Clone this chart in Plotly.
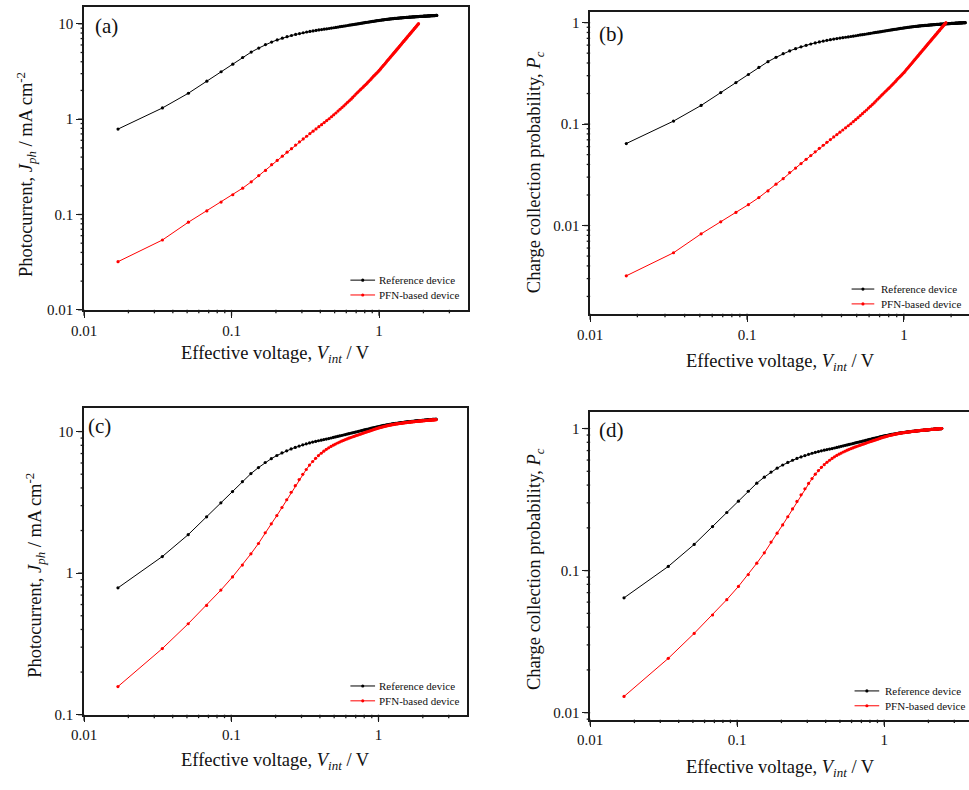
import math
import plotly.graph_objects as go

W, H = 969, 790
FONT = "Liberation Serif"

# Effective voltage sweep (V)
voltage = [
    0.017, 0.034, 0.051, 0.068, 0.085, 0.102, 0.119, 0.136, 0.153, 0.170,
    0.187, 0.204, 0.221, 0.238, 0.255, 0.272, 0.289, 0.306, 0.323, 0.340,
    0.357, 0.374, 0.391, 0.408, 0.425, 0.442, 0.459, 0.476, 0.493, 0.510,
    0.527, 0.544, 0.561, 0.578, 0.595, 0.612, 0.629, 0.646, 0.663, 0.680,
    0.697, 0.714, 0.731, 0.748, 0.765, 0.782, 0.799, 0.816, 0.833, 0.850,
    0.867, 0.884, 0.901, 0.918, 0.935, 0.952, 0.969, 0.986, 1.003, 1.020,
    1.037, 1.054, 1.071, 1.088, 1.105, 1.122, 1.139, 1.156, 1.173, 1.190,
    1.207, 1.224, 1.241, 1.258, 1.275, 1.292, 1.309, 1.326, 1.343, 1.360,
    1.377, 1.394, 1.411, 1.428, 1.445, 1.462, 1.479, 1.496, 1.513, 1.530,
    1.547, 1.564, 1.581, 1.598, 1.615, 1.632, 1.649, 1.666, 1.683, 1.700,
    1.717, 1.734, 1.751, 1.768, 1.785, 1.802, 1.819, 1.836, 1.853, 1.870,
    1.887, 1.904, 1.921, 1.938, 1.955, 1.972, 1.989, 2.006, 2.023, 2.040,
    2.057, 2.074, 2.091, 2.108, 2.125, 2.142, 2.159, 2.176, 2.193, 2.210,
    2.227, 2.244, 2.261, 2.278, 2.295, 2.312, 2.329, 2.346, 2.363, 2.380,
    2.397, 2.414, 2.431, 2.448, 2.465,
]

# Photocurrent of the reference device (mA cm^-2)
j_reference = [
    0.787, 1.31, 1.87, 2.50, 3.14, 3.77, 4.43, 5.05, 5.57, 6.05,
    6.44, 6.78, 7.07, 7.32, 7.54, 7.73, 7.90, 8.06, 8.20, 8.32,
    8.43, 8.53, 8.62, 8.70, 8.78, 8.85, 8.93, 9.01, 9.09, 9.17,
    9.25, 9.32, 9.39, 9.46, 9.53, 9.60, 9.67, 9.74, 9.80, 9.86,
    9.92, 9.98, 10.04, 10.10, 10.16, 10.22, 10.28, 10.33, 10.38, 10.43,
    10.48, 10.53, 10.58, 10.63, 10.68, 10.73, 10.78, 10.82, 10.86, 10.90,
    10.94, 10.98, 11.02, 11.06, 11.09, 11.12, 11.15, 11.18, 11.21, 11.24,
    11.27, 11.30, 11.33, 11.36, 11.38, 11.40, 11.42, 11.44, 11.46, 11.48,
    11.50, 11.52, 11.54, 11.56, 11.58, 11.60, 11.62, 11.64, 11.65, 11.67,
    11.68, 11.70, 11.71, 11.73, 11.74, 11.76, 11.77, 11.79, 11.80, 11.81,
    11.83, 11.84, 11.85, 11.86, 11.87, 11.89, 11.90, 11.91, 11.92, 11.93,
    11.94, 11.95, 11.96, 11.97, 11.98, 11.99, 12.00, 12.01, 12.02, 12.03,
    12.04, 12.05, 12.06, 12.07, 12.08, 12.09, 12.10, 12.11, 12.12, 12.13,
    12.14, 12.15, 12.16, 12.16, 12.17, 12.18, 12.19, 12.19, 12.20, 12.21,
    12.21, 12.22, 12.23, 12.23, 12.24,
]

# Photocurrent of the PFN-based device, panels (a)/(b)
j_pfn_a = [
    0.032, 0.054, 0.083, 0.109, 0.135, 0.161, 0.189, 0.220, 0.256, 0.290,
    0.333, 0.369, 0.409, 0.450, 0.490, 0.534, 0.578, 0.620, 0.662, 0.705,
    0.748, 0.790, 0.833, 0.876, 0.920, 0.965, 1.01, 1.06, 1.11, 1.16,
    1.215, 1.27, 1.325, 1.38, 1.44, 1.50, 1.56, 1.62, 1.69, 1.76,
    1.83, 1.90, 1.97, 2.04, 2.11, 2.18, 2.25, 2.32, 2.40, 2.48,
    2.56, 2.64, 2.73, 2.82, 2.90, 2.98, 3.06, 3.15, 3.24, 3.34,
    3.45, 3.55, 3.66, 3.76, 3.87, 3.98, 4.10, 4.21, 4.32, 4.44,
    4.56, 4.68, 4.80, 4.92, 5.04, 5.16, 5.29, 5.42, 5.54, 5.67,
    5.80, 5.94, 6.07, 6.21, 6.35, 6.49, 6.62, 6.76, 6.90, 7.05,
    7.19, 7.34, 7.49, 7.63, 7.78, 7.94, 8.09, 8.24, 8.40, 8.56,
    8.72, 8.88, 9.04, 9.20, 9.36, 9.52, 9.69, 9.85, 10.02,
]

# Photocurrent of the PFN-based device, panels (c)/(d)
j_pfn_c = [
    0.158, 0.293, 0.439, 0.592, 0.759, 0.940, 1.14, 1.37, 1.62, 1.93,
    2.23, 2.55, 2.91, 3.30, 3.73, 4.15, 4.58, 4.99, 5.40, 5.80,
    6.15, 6.48, 6.77, 7.03, 7.27, 7.49, 7.68, 7.86, 8.02, 8.17,
    8.31, 8.44, 8.56, 8.67, 8.78, 8.88, 8.98, 9.07, 9.16, 9.25,
    9.33, 9.41, 9.49, 9.57, 9.65, 9.73, 9.81, 9.88, 9.95, 10.02,
    10.08, 10.15, 10.22, 10.29, 10.36, 10.43, 10.49, 10.55, 10.61, 10.66,
    10.71, 10.76, 10.81, 10.86, 10.90, 10.94, 10.98, 11.02, 11.06, 11.10,
    11.13, 11.16, 11.19, 11.22, 11.25, 11.28, 11.31, 11.33, 11.35, 11.37,
    11.39, 11.41, 11.43, 11.45, 11.47, 11.49, 11.51, 11.53, 11.55, 11.57,
    11.59, 11.60, 11.62, 11.63, 11.65, 11.66, 11.68, 11.69, 11.71, 11.72,
    11.74, 11.75, 11.76, 11.78, 11.79, 11.80, 11.81, 11.83, 11.84, 11.85,
    11.86, 11.87, 11.88, 11.89, 11.90, 11.91, 11.92, 11.93, 11.94, 11.95,
    11.96, 11.97, 11.98, 11.98, 11.99, 12.00, 12.01, 12.02, 12.03, 12.04,
    12.04, 12.05, 12.06, 12.07, 12.08, 12.08, 12.09, 12.10, 12.11, 12.12,
    12.12, 12.13, 12.14, 12.15, 12.15,
]

# Charge collection probability P_c = J_ph / J_sat (saturation = last point of each sweep)
pc_reference = [j / j_reference[-1] for j in j_reference]
pc_pfn_a = [j / j_pfn_a[-1] for j in j_pfn_a]
pc_pfn_c = [j / j_pfn_c[-1] for j in j_pfn_c]

legend_names = ["Reference device", "PFN-based device"]
series_colors = ["#000000", "#ff0000"]

x_title = "Effective voltage, <i>V<sub>int</sub></i> / V"
j_title = "Photocurrent, <i>J<sub>ph</sub></i> / mA cm<sup>-2</sup>"
pc_title = "Charge collection probability, <i>P<sub>c</sub></i>"


def fx(px):
    return px / W


def fy(py):
    return 1 - py / H


panels = [
    dict(tag="(a)", ref=j_reference, pfn=j_pfn_a, ytitle=j_title,
         xdom=(72, 461), ydom=(7, 313), xr=(-2, 0.602), yr=(-2, 1.177),
         tagpos=(95, 26), ytitlepos=(13, 176), xtitlepos=(266, 358),
         leg=(342, 367, 369, 283, 298), right=True),
    dict(tag="(b)", ref=pc_reference, pfn=pc_pfn_a, ytitle=pc_title,
         xdom=(585, 969), ydom=(12, 317), xr=(-2, 0.415), yr=(-2.87, 0.106),
         tagpos=(607, 34), ytitlepos=(529, 174), xtitlepos=(778, 366),
         leg=(850, 873, 878, 292, 307), right=False),
    dict(tag="(c)", ref=j_reference, pfn=j_pfn_c, ytitle=j_title,
         xdom=(72, 460), ydom=(412, 722), xr=(-2, 0.60), yr=(-1, 1.168),
         tagpos=(88, 430), ytitlepos=(22, 581), xtitlepos=(266, 769),
         leg=(342, 367, 369, 693, 708), right=True),
    dict(tag="(d)", ref=pc_reference, pfn=pc_pfn_c, ytitle=pc_title,
         xdom=(585, 969), ydom=(416, 727), xr=(-2, 0.577), yr=(-2.049, 0.118),
         tagpos=(607, 434), ytitlepos=(529, 575), xtitlepos=(778, 776),
         leg=(853, 878, 882, 698, 713), right=False),
]

AX_COLOR = "#1a1a1a"
MAJOR_LEN, MINOR_LEN = 6, 3.5


def log_ticks(lo, hi):
    """(value, is_major) for 1..9 x 10^k inside a log10 range."""
    out = []
    for e in range(math.floor(lo), math.ceil(hi) + 1):
        for m in range(1, 10):
            v = m * 10.0 ** e
            if lo - 1e-9 <= math.log10(v) <= hi + 1e-9:
                out.append((v, m == 1))
    return out


def tick_shapes(p):
    """Outward tick marks on the bottom and left axis lines of one panel."""
    (x0, x1), (y0, y1) = p["xdom"], p["ydom"]
    lo, hi = p["xr"]
    res = []
    for v, major in log_ticks(lo, hi):
        px = x0 + (math.log10(v) - lo) / (hi - lo) * (x1 - x0)
        ln = MAJOR_LEN if major else MINOR_LEN
        res.append(dict(type="line", xref="paper", yref="paper",
                        x0=fx(px), x1=fx(px), y0=fy(y1), y1=fy(y1 + ln),
                        line=dict(color=AX_COLOR, width=1.3)))
    lo, hi = p["yr"]
    for v, major in log_ticks(lo, hi):
        py = y1 - (math.log10(v) - lo) / (hi - lo) * (y1 - y0)
        ln = MAJOR_LEN if major else MINOR_LEN
        res.append(dict(type="line", xref="paper", yref="paper",
                        x0=fx(x0), x1=fx(x0 - ln), y0=fy(py), y1=fy(py),
                        line=dict(color=AX_COLOR, width=1.3)))
    return res


fig = go.Figure()
annotations = []
shapes = []
layout = {}


def note(text, px, py, size, **kw):
    return dict(text=text, x=fx(px), y=fy(py), xref="paper", yref="paper",
                showarrow=False, xanchor=kw.pop("xanchor", "center"),
                yanchor="middle", font=dict(family=FONT, size=size, color="#111"),
                **kw)


for i, p in enumerate(panels):
    n = "" if i == 0 else str(i + 1)
    xa, ya = "x" + n, "y" + n

    for series, color, name in zip((p["ref"], p["pfn"]), series_colors, legend_names):
        fig.add_trace(go.Scatter(
            x=voltage[:len(series)], y=series, xaxis=xa, yaxis=ya,
            mode="lines+markers", name=name, showlegend=False,
            line=dict(color=color, width=1),
            marker=dict(color=color, size=3.2, line=dict(width=0)),
        ))

    common = dict(
        type="log", showgrid=False, zeroline=False, showline=True,
        linecolor=AX_COLOR, linewidth=1.5, ticks="outside", ticklen=MAJOR_LEN,
        tickwidth=1.3, tickcolor=AX_COLOR,
        tickmode="linear", tick0=0, dtick=1,
        tickfont=dict(family=FONT, size=15, color="#111"),
        fixedrange=True,
    )
    layout["xaxis" + n] = dict(
        common, domain=[fx(p["xdom"][0]), fx(p["xdom"][1])], range=list(p["xr"]),
        anchor=ya, mirror=True,
    )
    layout["yaxis" + n] = dict(
        common, domain=[fy(p["ydom"][1]), fy(p["ydom"][0])], range=list(p["yr"]),
        anchor=xa, mirror=p["right"],
    )

    shapes.extend(tick_shapes(p))

    annotations.append(note(p["tag"], *p["tagpos"], 21))
    annotations.append(note(x_title, *p["xtitlepos"], 18.5))
    annotations.append(note(p["ytitle"], *p["ytitlepos"], 18.5, textangle=-90))

    # legend block
    lx0, lx1, tx, r0, r1 = p["leg"]
    for row_y, color, name in zip((r0, r1), series_colors, legend_names):
        shapes.append(dict(type="line", xref="paper", yref="paper",
                           x0=fx(lx0), x1=fx(lx1), y0=fy(row_y), y1=fy(row_y),
                           line=dict(color=color, width=1)))
        mx = (lx0 + lx1) / 2
        shapes.append(dict(type="circle", xref="paper", yref="paper",
                           x0=fx(mx - 1.6), x1=fx(mx + 1.6),
                           y0=fy(row_y + 1.6), y1=fy(row_y - 1.6),
                           fillcolor=color, line=dict(width=0)))
        annotations.append(note(name, tx, row_y, 11, xanchor="left"))

fig.update_layout(
    width=W, height=H, margin=dict(l=0, r=0, t=0, b=0),
    paper_bgcolor="white", plot_bgcolor="white",
    showlegend=False, annotations=annotations, shapes=shapes,
    font=dict(family=FONT, color="#111"),
    **layout,
)

fig.write_html("out.html", config={"displayModeBar": False})
